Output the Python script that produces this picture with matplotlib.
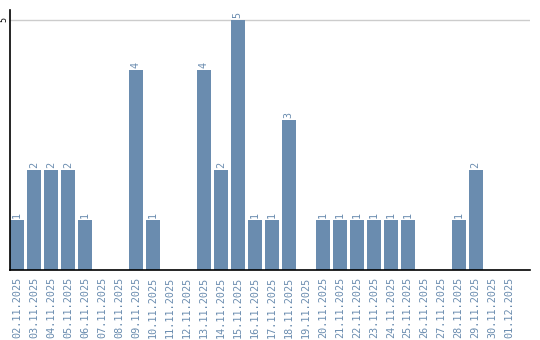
import matplotlib
matplotlib.use("Agg")
import matplotlib.pyplot as plt

dates = ["02.11.2025", "03.11.2025", "04.11.2025", "05.11.2025", "06.11.2025",
         "07.11.2025", "08.11.2025", "09.11.2025", "10.11.2025", "11.11.2025",
         "12.11.2025", "13.11.2025", "14.11.2025", "15.11.2025", "16.11.2025",
         "17.11.2025", "18.11.2025", "19.11.2025", "20.11.2025", "21.11.2025",
         "22.11.2025", "23.11.2025", "24.11.2025", "25.11.2025", "26.11.2025",
         "27.11.2025", "28.11.2025", "29.11.2025", "30.11.2025", "01.12.2025"]
counts = [1, 2, 2, 2, 1, 0, 0, 4, 1, 0, 0, 4, 2, 5, 1, 1, 3, 0,
          1, 1, 1, 1, 1, 1, 0, 0, 1, 2, 0, 0]

bar_color = "#6a8caf"
text_color = "#6a8caf"

fig = plt.figure(figsize=(5.4, 3.4), dpi=100)
ax = fig.add_axes([10 / 540, 1 - 270 / 340, 520 / 540, 260 / 340])

x = list(range(len(dates)))
ax.bar(x, counts, width=0.82, color=bar_color, zorder=2)
for xi, v in zip(x, counts):
    if v > 0:
        ax.text(xi, v + 0.04, str(v), rotation=90, ha="center", va="bottom",
                fontsize=7.3, color=text_color, family="DejaVu Sans Mono")

ax.set_xlim(-0.41, 30.2)
ax.set_ylim(0, 5.2)
ax.set_yticks([5])
ax.set_yticklabels(["5"], rotation=90, va="center", fontsize=6,
                   family="DejaVu Sans Mono")
ax.axhline(5, color="#cccccc", lw=1, zorder=1)
ax.set_xticks(x)
ax.set_xticklabels(dates, rotation=90, fontsize=7.3, color=text_color,
                   family="DejaVu Sans Mono")
ax.tick_params(length=0, pad=5)
ax.tick_params(axis="y", pad=1)
for s in ["top", "right"]:
    ax.spines[s].set_visible(False)
ax.spines["left"].set_linewidth(1.2)
ax.spines["bottom"].set_linewidth(1.2)

fig.savefig("out.png", dpi=100)
